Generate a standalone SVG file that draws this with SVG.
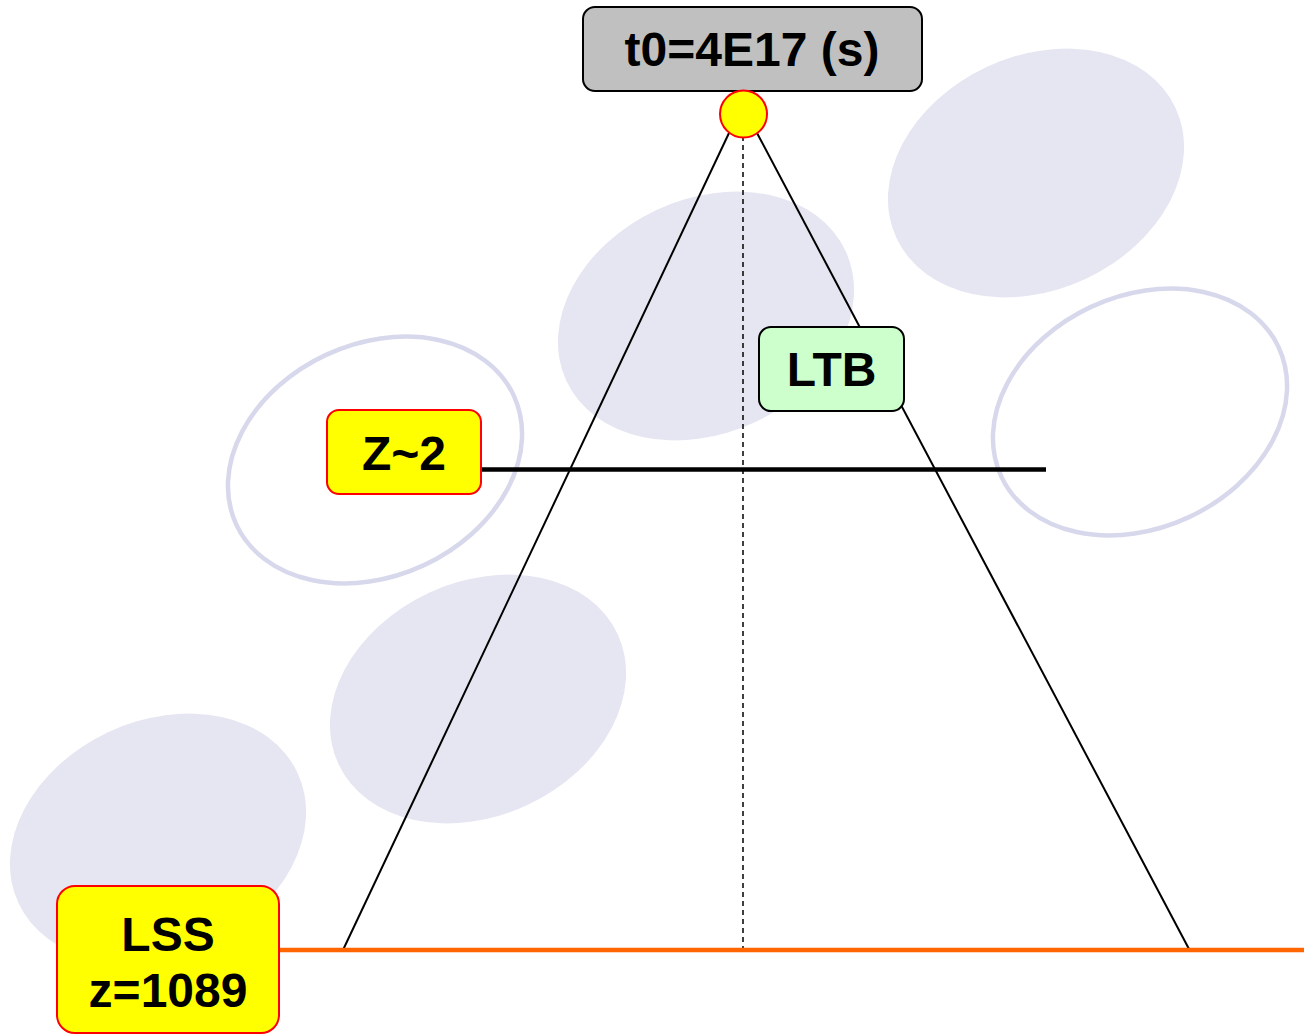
<svg xmlns="http://www.w3.org/2000/svg" width="1304" height="1034" viewBox="0 0 1304 1034">
  <style>
    .blob { fill: #e6e6f3; stroke: none; }
    .ring { fill: none; stroke: #d8d8ec; stroke-width: 4.5; }
    .label { font-family: "Liberation Sans", Arial, sans-serif; font-weight: bold; font-size: 48px; fill: #000; text-anchor: middle; }
    .ray { stroke: #000; stroke-width: 2; fill: none; }
    .box-yellow { fill: #ffff00; stroke: #ff0000; stroke-width: 2; }
  </style>
  <rect width="1304" height="1034" fill="#ffffff"/>

  <!-- background bubbles -->
  <g id="bubbles">
    <ellipse class="blob" cx="1036" cy="173" rx="154" ry="117" transform="rotate(-25 1036 173)"/>
    <ellipse class="blob" cx="706" cy="316" rx="154" ry="117" transform="rotate(-25 706 316)"/>
    <ellipse class="blob" cx="478" cy="699" rx="154" ry="117" transform="rotate(-25 478 699)"/>
    <ellipse class="blob" cx="158" cy="838" rx="154" ry="117" transform="rotate(-25 158 838)"/>
    <ellipse class="ring" cx="375" cy="460" rx="153" ry="116" transform="rotate(-25 375 460)"/>
    <ellipse class="ring" cx="1140" cy="412" rx="153" ry="116" transform="rotate(-25 1140 412)"/>
  </g>

  <!-- cone, axis and horizons -->
  <g id="connectors">
    <line class="ray" x1="729" y1="133" x2="343" y2="950"/>
    <line class="ray" x1="757" y1="133" x2="1189" y2="949"/>
    <line x1="743" y1="136" x2="743" y2="950" stroke="#000" stroke-width="1.5" stroke-dasharray="5 4"/>
    <line x1="481" y1="469.5" x2="1046" y2="469.5" stroke="#000" stroke-width="4.5"/>
    <line x1="279" y1="950" x2="1304" y2="950" stroke="#ff6600" stroke-width="4.5"/>
  </g>

  <g id="node-t0">
    <rect x="583" y="7" width="339" height="84" rx="12" fill="#c0c0c0" stroke="#000" stroke-width="2"/>
    <text class="label" x="752" y="66">t0=4E17 (s)</text>
  </g>

  <g id="node-origin">
    <circle cx="743.5" cy="114" r="23.5" fill="#ffff00" stroke="#ff0000" stroke-width="2"/>
  </g>

  <g id="node-ltb">
    <rect x="759" y="327" width="145" height="84" rx="12" fill="#ccffcc" stroke="#000" stroke-width="2"/>
    <text class="label" x="831.5" y="386">LTB</text>
  </g>

  <g id="node-z2">
    <rect class="box-yellow" x="327" y="410" width="154" height="84" rx="12"/>
    <text class="label" x="404" y="470">Z~2</text>
  </g>

  <g id="node-lss">
    <rect class="box-yellow" x="57" y="886" width="222" height="147" rx="18"/>
    <text class="label" x="168" y="951">LSS</text>
    <text class="label" x="168" y="1007">z=1089</text>
  </g>
</svg>
